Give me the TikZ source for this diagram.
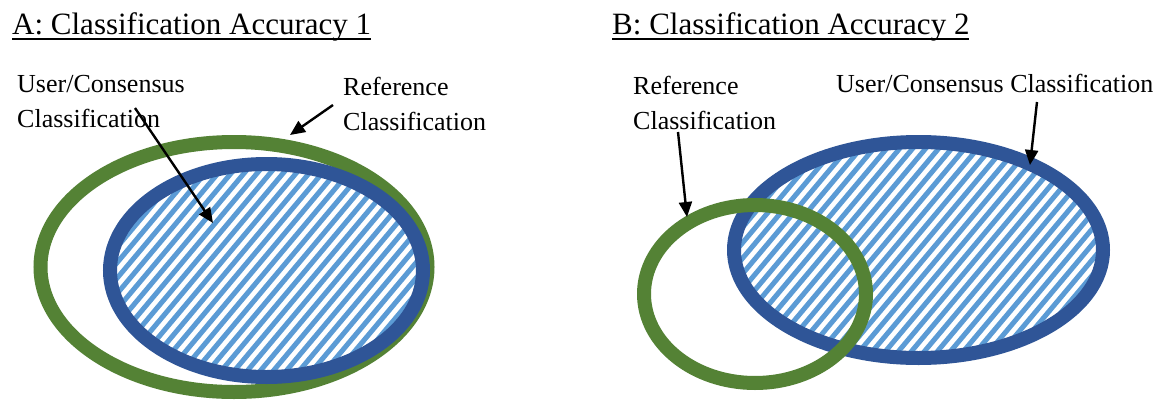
\documentclass[tikz,border=0pt]{standalone}
\usepackage{fontspec}
\setmainfont{Liberation Serif}
\usetikzlibrary{shapes.geometric,arrows.meta,calc}
\definecolor{ringgreen}{HTML}{548235}
\definecolor{ringblue}{HTML}{2F5597}
\definecolor{hatchblue}{HTML}{5B9BD5}
\newcommand{\myul}[1]{\setbox0\hbox{#1}\rlap{\rule[-5.5pt]{\wd0}{2pt}}\box0}
\begin{document}
\begin{tikzpicture}[x=1pt,y=-1pt,
  ring/.style={ellipse, draw, line width=14pt, inner sep=0pt, outer sep=0pt},
  hatched/.style={preaction={path picture={
    \foreach \k in {-80,...,80}{
      \draw[hatchblue, line width=5pt]
        ($(path picture bounding box.center)+(\k*13pt,0pt)+(230:420pt)$) -- ++(50:840pt);
    }}}},
  lbl/.style={font=\fontsize{26}{34.5}\selectfont, align=left, inner sep=0pt, anchor=base west},
  ttl/.style={font=\fontsize{31}{37}\selectfont, inner sep=0pt, anchor=base west},
  arr/.style={line width=2.4pt, -{Triangle[length=15pt,width=13pt]}}
]
\fill[white] (0,0) rectangle (1170,407);
\useasboundingbox (0,0) rectangle (1170,407);

% titles
\node[ttl] (tA) at (12,34) {\myul{A: Classification Accuracy 1}};
\node[ttl] (tB) at (612,34) {\myul{B: Classification Accuracy 2}};

% panel A
\node[ring, ringgreen, minimum width=387pt, minimum height=250pt] (gA) at (234,267) {};
\node[ring, ringblue, hatched, minimum width=313pt, minimum height=213pt] (bA) at (266.5,270.5) {};

% panel B
\node[ring, ringblue, hatched, minimum width=369pt, minimum height=216pt] (bB) at (918.5,250) {};
\node[ring, ringgreen, minimum width=222pt, minimum height=178pt] (gB) at (755,294) {};

% labels (base = baseline of the last line)
\node[lbl] (lA1) at (17,127) {User/Consensus\\Classification};
\node[lbl] (lA2) at (343,130) {Reference\\Classification};
\node[lbl] (lB1) at (633,129) {Reference\\Classification};
\node[lbl] (lB2) at (836,92) {User/Consensus Classification};

% arrow ends
\coordinate (sA1) at (135,108);
\coordinate (eA1) at (213,223);
\coordinate (sA2) at (333,105);
\coordinate (eA2) at (290,135);
\coordinate (sB1) at (678,132);
\coordinate (eB1) at (687,217);
\coordinate (sB2) at (1037,102);
\coordinate (eB2) at (1030,165);

\draw[arr] (sA1) -- (eA1);
\draw[arr] (sA2) -- (eA2);
\draw[arr] (sB1) -- (eB1);
\draw[arr] (sB2) -- (eB2);
\end{tikzpicture}
\end{document}
